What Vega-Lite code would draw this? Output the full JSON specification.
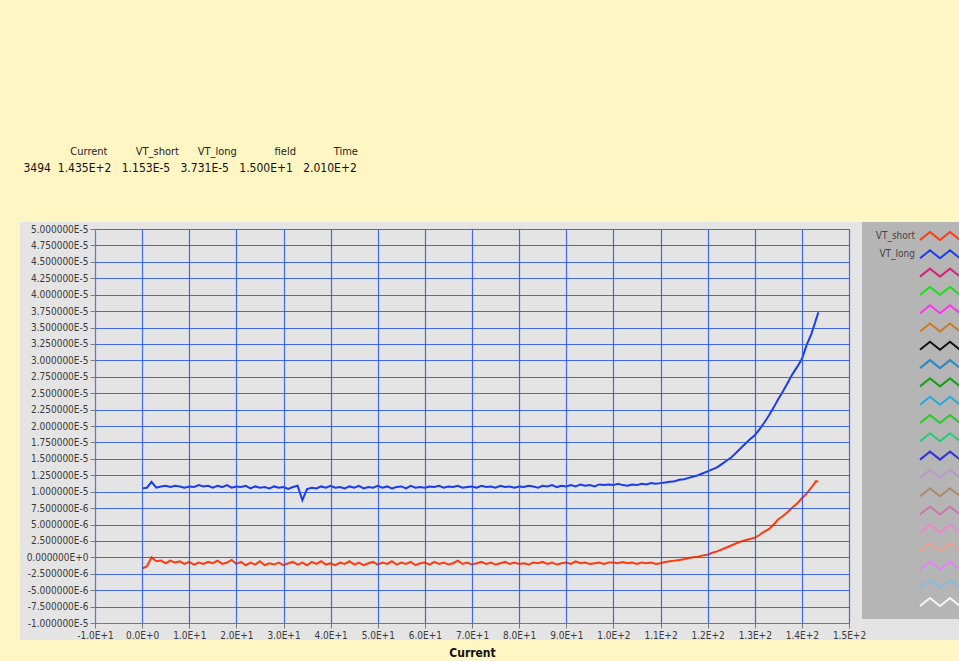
{
  "$schema": "https://vega.github.io/schema/vega-lite/v6.json",
  "autosize": {"type": "none"},
  "width": 754,
  "height": 394,
  "padding": {"left": 95, "top": 229, "right": 110, "bottom": 38},
  "background": "#fff6c4",
  "title": {
    "text": "\u200b\u00a0\u00a0\u00a0\u00a0\u00a0\u00a0\u00a0\u00a0\u00a0\u00a0\u00a0\u00a0\u00a0\u00a0\u00a0\u00a0Current\u00a0\u00a0\u00a0\u00a0\u00a0\u00a0\u00a0\u00a0\u00a0VT_short\u00a0\u00a0\u00a0\u00a0\u00a0\u00a0VT_long\u00a0\u00a0\u00a0\u00a0\u00a0\u00a0\u00a0\u00a0\u00a0\u00a0\u00a0\u00a0field\u00a0\u00a0\u00a0\u00a0\u00a0\u00a0\u00a0\u00a0\u00a0\u00a0\u00a0\u00a0Time",
    "subtitle": "\u200b\u00a03494\u00a0\u00a01.435E+2\u00a0\u00a0\u00a01.153E-5\u00a0\u00a0\u00a03.731E-5\u00a0\u00a0\u00a01.500E+1\u00a0\u00a0\u00a02.010E+2",
    "anchor": "start",
    "frame": "bounds",
    "offset": 48,
    "font": "'DejaVu Sans Condensed', 'Liberation Sans', sans-serif",
    "fontSize": 11,
    "fontWeight": "normal",
    "color": "#222222",
    "subtitleFont": "'DejaVu Sans Condensed', 'Liberation Sans', sans-serif",
    "subtitleFontSize": 12,
    "subtitleColor": "#111111",
    "subtitlePadding": 6
  },
  "layer": [
    {
      "description": "grey graph panel behind the plot and its tick labels",
      "data": {"values": [{}]},
      "mark": {"type": "rect", "clip": false, "color": "#e4e4e4"},
      "encoding": {
        "x": {
          "datum": -25.9,
          "type": "quantitative",
          "title": "Current",
          "axis": {
            "zindex": 1,
            "values": [-10, 0, 10, 20, 30, 40, 50, 60, 70, 80, 90, 100, 110, 120, 130, 140, 150],
            "labelExpr": "replace(datum.value == 0 ? '0.0E+0' : abs(datum.value) >= 100 ? format(datum.value / 100, '.1f') + 'E+2' : format(datum.value / 10, '.1f') + 'E+1', '\u2212', '-')",
            "labelOverlap": false,
            "labelFlush": false,
            "titlePadding": 7
          }
        },
        "x2": {"datum": 173.5},
        "y": {
          "datum": -1.259e-5,
          "type": "quantitative",
          "title": null,
          "axis": {
            "zindex": 1,
            "values": [5e-5, 4.75e-5, 4.5e-5, 4.25e-5, 4e-5, 3.75e-5, 3.5e-5, 3.25e-5, 3e-5, 2.75e-5, 2.5e-5, 2.25e-5, 2e-5, 1.75e-5, 1.5e-5, 1.25e-5, 1e-5, 7.5e-6, 5e-6, 2.5e-6, 0, -2.5e-6, -5e-6, -7.5e-6, -1e-5],
            "labelExpr": "replace(datum.value == 0 ? '0.000000E+0' : abs(datum.value) > 9.9e-6 ? format(datum.value * 1e5, '.6f') + 'E-5' : format(datum.value * 1e6, '.6f') + 'E-6', '\u2212', '-')",
            "labelOverlap": false,
            "labelFlush": false
          }
        },
        "y2": {"datum": 5.107e-5}
      }
    },
    {
      "data": {
        "values": [
          {"I": 0, "VT_short": -1.7e-6, "VT_long": 1.05e-5},
          {"I": 1, "VT_short": -1.4e-6, "VT_long": 1.06e-5},
          {"I": 2, "VT_short": 0, "VT_long": 1.15e-5},
          {"I": 3, "VT_short": -6e-7, "VT_long": 1.06e-5},
          {"I": 4, "VT_short": -5e-7, "VT_long": 1.08e-5},
          {"I": 5, "VT_short": -9e-7, "VT_long": 1.09e-5},
          {"I": 6, "VT_short": -5e-7, "VT_long": 1.07e-5},
          {"I": 7, "VT_short": -8e-7, "VT_long": 1.09e-5},
          {"I": 8, "VT_short": -6e-7, "VT_long": 1.08e-5},
          {"I": 9, "VT_short": -1.0e-6, "VT_long": 1.06e-5},
          {"I": 10, "VT_short": -7e-7, "VT_long": 1.08e-5},
          {"I": 11, "VT_short": -1.1e-6, "VT_long": 1.07e-5},
          {"I": 12, "VT_short": -8e-7, "VT_long": 1.10e-5},
          {"I": 13, "VT_short": -1.0e-6, "VT_long": 1.08e-5},
          {"I": 14, "VT_short": -7e-7, "VT_long": 1.09e-5},
          {"I": 15, "VT_short": -9e-7, "VT_long": 1.06e-5},
          {"I": 16, "VT_short": -5e-7, "VT_long": 1.09e-5},
          {"I": 17, "VT_short": -1.0e-6, "VT_long": 1.07e-5},
          {"I": 18, "VT_short": -8e-7, "VT_long": 1.10e-5},
          {"I": 19, "VT_short": -4e-7, "VT_long": 1.06e-5},
          {"I": 20, "VT_short": -1.0e-6, "VT_long": 1.08e-5},
          {"I": 21, "VT_short": -7e-7, "VT_long": 1.07e-5},
          {"I": 22, "VT_short": -1.2e-6, "VT_long": 1.09e-5},
          {"I": 23, "VT_short": -8e-7, "VT_long": 1.05e-5},
          {"I": 24, "VT_short": -1.1e-6, "VT_long": 1.08e-5},
          {"I": 25, "VT_short": -6e-7, "VT_long": 1.06e-5},
          {"I": 26, "VT_short": -1.2e-6, "VT_long": 1.07e-5},
          {"I": 27, "VT_short": -9e-7, "VT_long": 1.05e-5},
          {"I": 28, "VT_short": -1.1e-6, "VT_long": 1.08e-5},
          {"I": 29, "VT_short": -8e-7, "VT_long": 1.06e-5},
          {"I": 30, "VT_short": -1.2e-6, "VT_long": 1.07e-5},
          {"I": 31, "VT_short": -9e-7, "VT_long": 1.04e-5},
          {"I": 32, "VT_short": -7e-7, "VT_long": 1.07e-5},
          {"I": 33, "VT_short": -1.1e-6, "VT_long": 1.09e-5},
          {"I": 34, "VT_short": -8e-7, "VT_long": 8.7e-6},
          {"I": 35, "VT_short": -1.2e-6, "VT_long": 1.04e-5},
          {"I": 36, "VT_short": -7e-7, "VT_long": 1.06e-5},
          {"I": 37, "VT_short": -1.0e-6, "VT_long": 1.05e-5},
          {"I": 38, "VT_short": -6e-7, "VT_long": 1.08e-5},
          {"I": 39, "VT_short": -1.1e-6, "VT_long": 1.06e-5},
          {"I": 40, "VT_short": -9e-7, "VT_long": 1.09e-5},
          {"I": 41, "VT_short": -1.2e-6, "VT_long": 1.06e-5},
          {"I": 42, "VT_short": -8e-7, "VT_long": 1.07e-5},
          {"I": 43, "VT_short": -1.0e-6, "VT_long": 1.05e-5},
          {"I": 44, "VT_short": -6e-7, "VT_long": 1.08e-5},
          {"I": 45, "VT_short": -1.1e-6, "VT_long": 1.06e-5},
          {"I": 46, "VT_short": -8e-7, "VT_long": 1.09e-5},
          {"I": 47, "VT_short": -1.2e-6, "VT_long": 1.05e-5},
          {"I": 48, "VT_short": -9e-7, "VT_long": 1.07e-5},
          {"I": 49, "VT_short": -7e-7, "VT_long": 1.06e-5},
          {"I": 50, "VT_short": -1.1e-6, "VT_long": 1.09e-5},
          {"I": 51, "VT_short": -8e-7, "VT_long": 1.06e-5},
          {"I": 52, "VT_short": -1.0e-6, "VT_long": 1.08e-5},
          {"I": 53, "VT_short": -6e-7, "VT_long": 1.05e-5},
          {"I": 54, "VT_short": -1.1e-6, "VT_long": 1.07e-5},
          {"I": 55, "VT_short": -8e-7, "VT_long": 1.08e-5},
          {"I": 56, "VT_short": -1.0e-6, "VT_long": 1.05e-5},
          {"I": 57, "VT_short": -7e-7, "VT_long": 1.09e-5},
          {"I": 58, "VT_short": -1.2e-6, "VT_long": 1.06e-5},
          {"I": 59, "VT_short": -9e-7, "VT_long": 1.07e-5},
          {"I": 60, "VT_short": -8e-7, "VT_long": 1.06e-5},
          {"I": 61, "VT_short": -1.1e-6, "VT_long": 1.08e-5},
          {"I": 62, "VT_short": -7e-7, "VT_long": 1.07e-5},
          {"I": 63, "VT_short": -1.0e-6, "VT_long": 1.09e-5},
          {"I": 64, "VT_short": -8e-7, "VT_long": 1.06e-5},
          {"I": 65, "VT_short": -1.1e-6, "VT_long": 1.08e-5},
          {"I": 66, "VT_short": -9e-7, "VT_long": 1.07e-5},
          {"I": 67, "VT_short": -5e-7, "VT_long": 1.09e-5},
          {"I": 68, "VT_short": -1.0e-6, "VT_long": 1.06e-5},
          {"I": 69, "VT_short": -8e-7, "VT_long": 1.07e-5},
          {"I": 70, "VT_short": -1.1e-6, "VT_long": 1.08e-5},
          {"I": 71, "VT_short": -9e-7, "VT_long": 1.06e-5},
          {"I": 72, "VT_short": -7e-7, "VT_long": 1.09e-5},
          {"I": 73, "VT_short": -1.0e-6, "VT_long": 1.07e-5},
          {"I": 74, "VT_short": -8e-7, "VT_long": 1.08e-5},
          {"I": 75, "VT_short": -1.1e-6, "VT_long": 1.06e-5},
          {"I": 76, "VT_short": -9e-7, "VT_long": 1.09e-5},
          {"I": 77, "VT_short": -7e-7, "VT_long": 1.07e-5},
          {"I": 78, "VT_short": -1.0e-6, "VT_long": 1.08e-5},
          {"I": 79, "VT_short": -8e-7, "VT_long": 1.06e-5},
          {"I": 80, "VT_short": -1.0e-6, "VT_long": 1.08e-5},
          {"I": 81, "VT_short": -9e-7, "VT_long": 1.07e-5},
          {"I": 82, "VT_short": -1.1e-6, "VT_long": 1.09e-5},
          {"I": 83, "VT_short": -8e-7, "VT_long": 1.08e-5},
          {"I": 84, "VT_short": -9e-7, "VT_long": 1.06e-5},
          {"I": 85, "VT_short": -7e-7, "VT_long": 1.09e-5},
          {"I": 86, "VT_short": -1.0e-6, "VT_long": 1.08e-5},
          {"I": 87, "VT_short": -8e-7, "VT_long": 1.10e-5},
          {"I": 88, "VT_short": -1.1e-6, "VT_long": 1.07e-5},
          {"I": 89, "VT_short": -9e-7, "VT_long": 1.09e-5},
          {"I": 90, "VT_short": -8e-7, "VT_long": 1.08e-5},
          {"I": 91, "VT_short": -1.0e-6, "VT_long": 1.10e-5},
          {"I": 92, "VT_short": -6e-7, "VT_long": 1.08e-5},
          {"I": 93, "VT_short": -9e-7, "VT_long": 1.11e-5},
          {"I": 94, "VT_short": -8e-7, "VT_long": 1.09e-5},
          {"I": 95, "VT_short": -1.0e-6, "VT_long": 1.10e-5},
          {"I": 96, "VT_short": -9e-7, "VT_long": 1.08e-5},
          {"I": 97, "VT_short": -8e-7, "VT_long": 1.11e-5},
          {"I": 98, "VT_short": -1.0e-6, "VT_long": 1.10e-5},
          {"I": 99, "VT_short": -8e-7, "VT_long": 1.11e-5},
          {"I": 100, "VT_short": -8e-7, "VT_long": 1.10e-5},
          {"I": 101, "VT_short": -9e-7, "VT_long": 1.12e-5},
          {"I": 102, "VT_short": -7e-7, "VT_long": 1.10e-5},
          {"I": 103, "VT_short": -9e-7, "VT_long": 1.09e-5},
          {"I": 104, "VT_short": -8e-7, "VT_long": 1.11e-5},
          {"I": 105, "VT_short": -1.0e-6, "VT_long": 1.10e-5},
          {"I": 106, "VT_short": -8e-7, "VT_long": 1.12e-5},
          {"I": 107, "VT_short": -9e-7, "VT_long": 1.11e-5},
          {"I": 108, "VT_short": -8e-7, "VT_long": 1.13e-5},
          {"I": 109, "VT_short": -1.0e-6, "VT_long": 1.12e-5},
          {"I": 110, "VT_short": -9e-7, "VT_long": 1.13e-5},
          {"I": 111, "VT_short": -7e-7, "VT_long": 1.14e-5},
          {"I": 112, "VT_short": -6e-7, "VT_long": 1.15e-5},
          {"I": 113, "VT_short": -5e-7, "VT_long": 1.16e-5},
          {"I": 114, "VT_short": -4e-7, "VT_long": 1.18e-5},
          {"I": 115, "VT_short": -3e-7, "VT_long": 1.19e-5},
          {"I": 116, "VT_short": -1e-7, "VT_long": 1.21e-5},
          {"I": 117, "VT_short": 0, "VT_long": 1.23e-5},
          {"I": 118, "VT_short": 1e-7, "VT_long": 1.25e-5},
          {"I": 119, "VT_short": 3e-7, "VT_long": 1.28e-5},
          {"I": 120, "VT_short": 4e-7, "VT_long": 1.31e-5},
          {"I": 121, "VT_short": 7e-7, "VT_long": 1.34e-5},
          {"I": 122, "VT_short": 9e-7, "VT_long": 1.37e-5},
          {"I": 123, "VT_short": 1.2e-6, "VT_long": 1.42e-5},
          {"I": 124, "VT_short": 1.5e-6, "VT_long": 1.47e-5},
          {"I": 125, "VT_short": 1.8e-6, "VT_long": 1.52e-5},
          {"I": 126, "VT_short": 2.1e-6, "VT_long": 1.59e-5},
          {"I": 127, "VT_short": 2.4e-6, "VT_long": 1.66e-5},
          {"I": 128, "VT_short": 2.6e-6, "VT_long": 1.73e-5},
          {"I": 129, "VT_short": 2.8e-6, "VT_long": 1.80e-5},
          {"I": 130, "VT_short": 3.0e-6, "VT_long": 1.86e-5},
          {"I": 131, "VT_short": 3.4e-6, "VT_long": 1.95e-5},
          {"I": 132, "VT_short": 3.9e-6, "VT_long": 2.05e-5},
          {"I": 133, "VT_short": 4.3e-6, "VT_long": 2.16e-5},
          {"I": 134, "VT_short": 5.0e-6, "VT_long": 2.28e-5},
          {"I": 135, "VT_short": 5.8e-6, "VT_long": 2.41e-5},
          {"I": 136, "VT_short": 6.3e-6, "VT_long": 2.53e-5},
          {"I": 137, "VT_short": 6.9e-6, "VT_long": 2.66e-5},
          {"I": 138, "VT_short": 7.6e-6, "VT_long": 2.79e-5},
          {"I": 139, "VT_short": 8.2e-6, "VT_long": 2.90e-5},
          {"I": 140, "VT_short": 9.0e-6, "VT_long": 3.02e-5},
          {"I": 141, "VT_short": 9.7e-6, "VT_long": 3.23e-5},
          {"I": 142, "VT_short": 1.06e-5, "VT_long": 3.40e-5},
          {"I": 143, "VT_short": 1.16e-5, "VT_long": 3.62e-5},
          {"I": 143.5, "VT_short": 1.153e-5, "VT_long": 3.731e-5}
        ]
      },
      "transform": [{"fold": ["VT_short", "VT_long"], "as": ["trace", "value"]}],
      "mark": {"type": "line", "strokeWidth": 2, "strokeJoin": "miter", "clip": true},
      "encoding": {
        "x": {
          "field": "I",
          "type": "quantitative",
          "title": "Current",
          "scale": {"domain": [-10, 150], "nice": false, "zero": false},
          "axis": {
            "zindex": 1,
            "values": [-10, 0, 10, 20, 30, 40, 50, 60, 70, 80, 90, 100, 110, 120, 130, 140, 150],
            "labelExpr": "replace(datum.value == 0 ? '0.0E+0' : abs(datum.value) >= 100 ? format(datum.value / 100, '.1f') + 'E+2' : format(datum.value / 10, '.1f') + 'E+1', '\u2212', '-')",
            "labelOverlap": false,
            "labelFlush": false,
            "titlePadding": 7
          }
        },
        "y": {
          "field": "value",
          "type": "quantitative",
          "title": null,
          "scale": {"domain": [-1e-5, 5e-5], "nice": false, "zero": false},
          "axis": {
            "zindex": 1,
            "values": [5e-5, 4.75e-5, 4.5e-5, 4.25e-5, 4e-5, 3.75e-5, 3.5e-5, 3.25e-5, 3e-5, 2.75e-5, 2.5e-5, 2.25e-5, 2e-5, 1.75e-5, 1.5e-5, 1.25e-5, 1e-5, 7.5e-6, 5e-6, 2.5e-6, 0, -2.5e-6, -5e-6, -7.5e-6, -1e-5],
            "labelExpr": "replace(datum.value == 0 ? '0.000000E+0' : abs(datum.value) > 9.9e-6 ? format(datum.value * 1e5, '.6f') + 'E-5' : format(datum.value * 1e6, '.6f') + 'E-6', '\u2212', '-')",
            "labelOverlap": false,
            "labelFlush": false
          }
        },
        "color": {
          "field": "trace",
          "type": "nominal",
          "scale": {
            "domain": ["VT_short", "VT_long", "field", "Time", "Temp 1", "Temp 2", "Temp 3", "Temp 4", "Temp 5", "Temp 6", "Temp 7", "Temp 8", "Temp 9", "Temp 10", "Temp 11", "Temp 12", "Temp 13", "Temp 14", "Temp 15", "Temp 16", "Temp 17"],
            "range": ["#ff3a10", "#1a3cf0", "#d6247a", "#22dd22", "#ff33ee", "#c87a20", "#111111", "#2a8ac8", "#1aa01a", "#22aadd", "#22cc22", "#22cc77", "#3333dd", "#b89ac8", "#b0896a", "#cc77aa", "#ee88cc", "#e8a090", "#dd88ee", "#88bbdd", "#f6f6f6"]
          },
          "legend": {
            "orient": "none",
            "legendX": 767,
            "legendY": -7,
            "direction": "vertical",
            "title": null,
            "fillColor": "#b5b5b5",
            "padding": 8,
            "symbolType": "M-4,0.8L-2,-0.8L0,0.8L2,-0.8L4,0.8",
            "symbolSize": 100,
            "symbolStrokeWidth": 2,
            "symbolFillColor": "transparent",
            "symbolOffset": 64,
            "labelAlign": "right",
            "labelOffset": -31,
            "rowPadding": 2.3,
            "labelExpr": "datum.label == 'VT_short' || datum.label == 'VT_long' ? datum.label : ''",
            "labelFont": "'DejaVu Sans Condensed', 'Liberation Sans', sans-serif",
            "labelFontSize": 10,
            "labelColor": "#444444"
          }
        }
      }
    }
  ],
  "config": {
    "view": {"stroke": null},
    "axis": {
      "grid": true,
      "gridColor": "#2652e6",
      "gridOpacity": 0.85,
      "gridWidth": 1.2,
      "domainColor": "#7a7a7a",
      "tickColor": "#7a7a7a",
      "tickSize": 5,
      "labelPadding": 2,
      "labelFont": "'DejaVu Sans Condensed', 'Liberation Sans', sans-serif",
      "labelFontSize": 10,
      "labelColor": "#3a3a3a",
      "titleFont": "'DejaVu Sans Condensed', 'Liberation Sans', sans-serif",
      "titleFontSize": 12,
      "titleFontWeight": "bold",
      "titleColor": "#111111"
    }
  }
}
